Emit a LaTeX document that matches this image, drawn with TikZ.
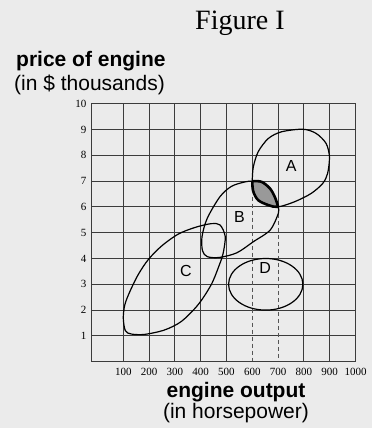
\documentclass[tikz,border=0pt]{standalone}
\usepackage{fontspec}
\setmainfont{Liberation Serif}
\setsansfont{Liberation Sans}
\usetikzlibrary{positioning}
\definecolor{chartbg}{HTML}{EBEBEB}
\definecolor{chartgrid}{HTML}{3C3C3C}
\definecolor{chartlens}{HTML}{999999}
\definecolor{chartdash}{HTML}{555555}
\def\regionA{plot[smooth cycle] coordinates{(6,7) (6.04,7.55) (6.23,8.14) (6.62,8.65) (7.13,8.91) (7.96,9.01) (8.47,8.85) (8.86,8.46) (8.99,7.94) (8.92,7.3) (8.73,6.91) (8.28,6.52) (7.64,6.2) (7.0,6.0) (6.62,6.07) (6.23,6.26) (6.04,6.59)}}
\def\regionB{plot[smooth cycle] coordinates{(6,7) (6.36,6.97) (6.68,6.72) (6.87,6.39) (7.0,6.0) (7.01,5.75) (6.69,5.1) (6.04,4.65) (5.4,4.22) (4.72,4.04) (4.26,4.07) (4.07,4.3) (4.05,4.84) (4.25,5.55) (4.75,6.4) (5.2,6.8) (5.72,6.97)}}
\def\regionC{plot[smooth cycle] coordinates{(1.0,1.69) (1.08,1.2) (1.32,1.07) (1.84,1.06) (2.6,1.23) (3.25,1.56) (3.9,2.21) (4.41,2.99) (4.73,3.77) (4.87,4.2) (4.95,4.85) (4.75,5.3) (4.4,5.35) (3.77,5.2) (3.12,4.94) (2.48,4.48) (1.97,3.96) (1.58,3.38) (1.26,2.73) (1.06,2.21)}}

\begin{document}
\begin{tikzpicture}[x=25.8pt,y=25.8pt,
    gridline/.style={chartgrid,line width=0.9pt},
    ticklbl/.style={font=\fontsize{11}{12}\selectfont,inner sep=0pt},
    axislbl/.style={font=\sffamily\fontsize{21}{24}\selectfont,inner sep=0pt,anchor=base},
    regionlbl/.style={font=\sffamily\fontsize{16}{18}\selectfont,inner sep=0pt},
    curve/.style={black,line width=1.2pt}]
    \fill[chartbg](-3.779,-2.570)rectangle(10.640,14.019);
    \useasboundingbox(-3.779,-2.570)rectangle(10.640,14.019);
    % grid
    \foreach \y in {1,...,9}\draw[gridline](-0.225,\y)--(10,\y);
    \foreach \x in {1,...,5,8,9}\draw[gridline](\x,0)--(\x,10);
    \draw[gridline](6,7)--(6,10) (7,6)--(7,10);
    \draw[chartdash,line width=1pt,dash pattern=on 4pt off 3pt](6,6.4)--(6,0) (7,6)--(7,0);
    \draw[chartgrid,line width=1.3pt](-0.225,0)rectangle(10,10);
    % ticks
    \foreach \y in {1,...,10}\node[ticklbl,anchor=east](ty\y)at(-0.419,\y){\y};
    \foreach \x in {1,...,10}\node[ticklbl,anchor=north](tx\x)at(\x,-0.256){\x00};
    % shaded overlap of A and B
    \begin{scope}\clip \regionA; \fill[chartlens] \regionB; \draw[line width=2.6pt] \regionB;\end{scope}
    \begin{scope}\clip \regionB; \draw[line width=2.6pt] \regionA;\end{scope}
    \draw[curve] \regionA;
    \draw[curve] \regionB;
    \draw[curve] \regionC;
    \draw[curve] (6.52,3.0) ellipse[x radius=1.44,y radius=1.0];
    \node[regionlbl](lblA)at(7.51,7.59){A};
    \node[regionlbl](lblB)at(5.5,5.62){B};
    \node[regionlbl](lblC)at(3.43,3.53){C};
    \node[regionlbl](lblD)at(6.5,3.62){D};
    % texts
    \node[font=\fontsize{28}{32}\selectfont,inner sep=0pt,anchor=base](title)at(5.52,12.88){Figure I};
    \node[axislbl,font=\sffamily\bfseries\fontsize{21}{24}\selectfont,anchor=base west](ylabel)at(-3.159,11.434){price of engine};
    \node[axislbl,anchor=base west](yunit)at(-3.236,10.504){(in \$ thousands)};
    \node[axislbl,font=\sffamily\bfseries\fontsize{21}{24}\selectfont](xlabel)at(5.368,-1.395){engine output};
    \node[axislbl](xunit)at(5.368,-2.194){(in horsepower)};
\end{tikzpicture}
\end{document}
